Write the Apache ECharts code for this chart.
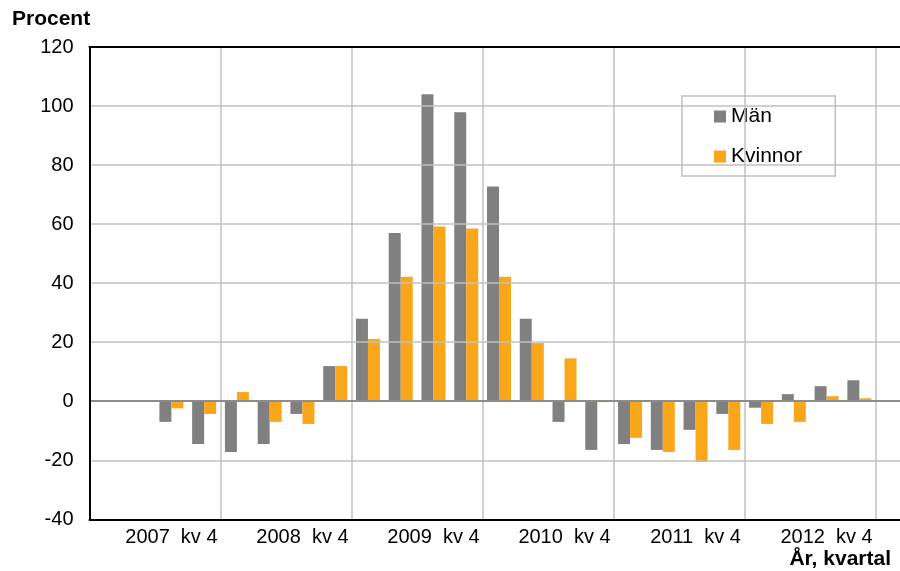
<!DOCTYPE html>
<html>
<head>
<meta charset="utf-8">
<script src="https://cdn.jsdelivr.net/npm/echarts@6/dist/echarts.min.js"></script>
<style>
html,body{margin:0;padding:0;background:#fff;}
#c{width:900px;height:571px;}
</style>
</head>
<body>
<div id="c"></div>
<script>
var categories = [
  "2007  kv 2","2007  kv 3","2007  kv 4",
  "2008  kv 1","2008  kv 2","2008  kv 3","2008  kv 4",
  "2009  kv 1","2009  kv 2","2009  kv 3","2009  kv 4",
  "2010  kv 1","2010  kv 2","2010  kv 3","2010  kv 4",
  "2011  kv 1","2011  kv 2","2011  kv 3","2011  kv 4",
  "2012  kv 1","2012  kv 2","2012  kv 3","2012  kv 4",
  "2013  kv 1","2013  kv 2"
];
var men = [null, -0.2, -7.0, -14.5, -17.2, -14.5, -4.3, 11.9, 27.9, 57.0, 104.0, 97.9, 72.7, 27.9, -7.0, -16.5, -14.5, -16.5, -9.7, -4.3, -2.2, 2.4, 5.1, 7.1, null];
var women = [null, 0.3, -2.4, -4.3, 3.1, -7.0, -7.7, 11.9, 21.1, 42.2, 59.2, 58.5, 42.2, 19.7, 14.5, -0.3, -12.4, -17.2, -20.6, -16.5, -7.7, -7.0, 1.7, 1.0, null];
var yTicks = { min: -40, max: 120, interval: 20 };
var seriesNames = ["Män", "Kvinnor"];

var FONT = "'Liberation Sans', Arial, sans-serif";
var chart = echarts.init(document.getElementById('c'), null, {renderer: 'canvas'});
chart.setOption({
  animation: false,
  backgroundColor: '#ffffff',
  textStyle: { fontFamily: FONT, color: '#000' },
  grid: {
    left: 89.5, top: 47, width: 819, bottom: 51.7,
    outerBoundsMode: 'none', containLabel: false,
    show: false
  },
  graphic: [
    { type: 'text', left: 12, top: 9, style: { text: 'Procent', font: 'bold 21px ' + FONT, fill: '#000' } },
    { type: 'text', right: 9, bottom: 1, style: { text: 'År, kvartal', font: 'bold 21px ' + FONT, fill: '#000' } }
  ],
  legend: {
    orient: 'vertical',
    left: 682, top: 96,
    padding: [10, 33, 9, 32],
    itemWidth: 12, itemHeight: 12, itemGap: 19,
    borderColor: '#BFBFBF', borderWidth: 1.5,
    backgroundColor: '#fff',
    icon: 'rect',
    textStyle: { fontSize: 21, fontFamily: FONT, color: '#000' },
    data: seriesNames
  },
  xAxis: [
    {
      type: 'category',
      data: categories,
      position: 'bottom',
      boundaryGap: true,
      axisLine: { show: true, onZero: false, lineStyle: { color: '#000', width: 2 } },
      axisTick: { show: false },
      axisLabel: {
        interval: function (i) { return i % 4 === 2; },
        fontSize: 20, fontFamily: FONT, color: '#000', margin: 8
      },
      splitLine: { show: true, interval: 3, lineStyle: { color: '#C0C0C0', width: 1.5 } },
      z: 5
    },
    {
      type: 'category',
      data: categories,
      position: 'top',
      boundaryGap: true,
      axisLine: { show: true, onZero: false, lineStyle: { color: '#000', width: 2 } },
      axisTick: { show: false },
      axisLabel: { show: false },
      splitLine: { show: false },
      z: 5
    }
  ],
  yAxis: {
    type: 'value',
    min: yTicks.min, max: yTicks.max, interval: yTicks.interval,
    axisLine: { show: true, onZero: false, lineStyle: { color: '#000', width: 2 } },
    axisTick: { show: false },
    axisLabel: { fontSize: 20, fontFamily: FONT, color: '#000', margin: 16 },
    splitLine: { show: true, lineStyle: { color: '#C0C0C0', width: 1.5 } },
    z: 5
  },
  series: [
    {
      name: seriesNames[0], type: 'bar', data: men,
      barWidth: 12, barGap: '0%',
      itemStyle: { color: '#808080' },
      markLine: {
        silent: true, symbol: 'none', label: { show: false },
        lineStyle: { color: '#8C8C8C', width: 2, type: 'solid' },
        data: [{ yAxis: 0 }]
      },
      z: 3
    },
    {
      name: seriesNames[1], type: 'bar', data: women,
      barWidth: 12, barGap: '0%',
      itemStyle: { color: '#FAA61A' },
      z: 3
    }
  ]
});
</script>
</body>
</html>
